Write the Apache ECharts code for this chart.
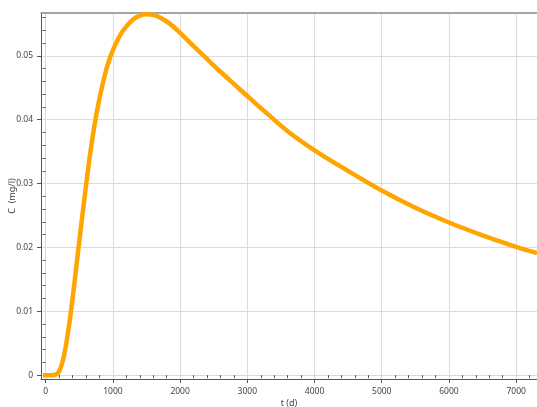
<!DOCTYPE html>
<html><head><meta charset="utf-8">
<script src="https://cdn.jsdelivr.net/npm/echarts@6/dist/echarts.min.js"></script>
<style>html,body{margin:0;padding:0;background:#fff}#c{width:537px;height:407px}</style>
</head><body><div id="c"></div>
<script>
// Time (d)
const tValues = [-40, 0, 100, 150, 200, 250, 300, 350, 400, 450, 500, 550, 600, 650, 700, 750, 800, 850, 900, 950, 1000, 1100, 1200, 1300, 1400, 1500, 1600, 1700, 1850, 2000, 2200, 2400, 2600, 2800, 3000, 3300, 3600, 4000, 4400, 5000, 5500, 6000, 6500, 7000, 7310];
// Concentration C (mg/l)
const cValues = [0, 0, 0, 0.0001, 0.0006, 0.0021, 0.0046, 0.0080, 0.0120, 0.0165, 0.0210, 0.0254, 0.0297, 0.0338, 0.0374, 0.0406, 0.0433, 0.0457, 0.0478, 0.0495, 0.0509, 0.0531, 0.0546, 0.0557, 0.0563, 0.0565, 0.0564, 0.0560, 0.0550, 0.0536, 0.0515, 0.0495, 0.0475, 0.0456, 0.0437, 0.0409, 0.0382, 0.0352, 0.0326, 0.0289, 0.0262, 0.0239, 0.0219, 0.0201, 0.0191];
const xMajorTicks = [0, 1000, 2000, 3000, 4000, 5000, 6000, 7000];
const xMinorTicks = [200, 400, 600, 800, 1200, 1400, 1600, 1800, 2200, 2400, 2600, 2800, 3200, 3400, 3600, 3800, 4200, 4400, 4600, 4800, 5200, 5400, 5600, 5800, 6200, 6400, 6600, 6800, 7200];
const yMajorTicks = [0, 0.01, 0.02, 0.03, 0.04, 0.05];
const yMinorTicks = [0.002, 0.004, 0.006, 0.008, 0.012, 0.014, 0.016, 0.018, 0.022, 0.024, 0.026, 0.028, 0.032, 0.034, 0.036, 0.038, 0.042, 0.044, 0.046, 0.048, 0.052, 0.054, 0.056];
const xRange = [-70, 7310];
const yRange = [-0.0006, 0.0567];

const font = 'Noto Sans';
const labelStyle = {fontSize: 8.5, color: '#444', fontFamily: font};
const data = tValues.map((t, i) => [t, cValues[i]]);

const chart = echarts.init(document.getElementById('c'));
chart.setOption({
  animation: false,
  grid: {left: 41, right: 0, top: 13, bottom: 28, containLabel: false, outerBoundsMode: 'none'},
  xAxis: [
    {type: 'value', min: xRange[0], max: xRange[1], position: 'bottom',
     name: 't (d)', nameLocation: 'middle', nameGap: 20, nameMoveOverlap: false,
     nameTextStyle: {fontSize: 9, color: '#444', fontFamily: font},
     axisLine: {show: true, onZero: false, lineStyle: {color: '#555', width: 1}},
     axisTick: {show: true, customValues: xMajorTicks, length: 4, lineStyle: {color: '#555'}},
     axisLabel: {show: true, customValues: xMajorTicks, margin: 8, formatter: v => String(v), ...labelStyle},
     splitLine: {show: true, lineStyle: {color: '#dcdcdc', width: 1}}},
    {type: 'value', min: xRange[0], max: xRange[1], position: 'bottom',
     axisLine: {show: false},
     axisTick: {show: true, customValues: xMinorTicks, length: 3, lineStyle: {color: '#555'}},
     axisLabel: {show: false}, splitLine: {show: false}},
    {type: 'value', min: xRange[0], max: xRange[1], position: 'top',
     axisLine: {show: true, onZero: false, lineStyle: {color: '#888', width: 1.5}},
     axisTick: {show: false}, axisLabel: {show: false}, splitLine: {show: false}}
  ],
  yAxis: [
    {type: 'value', min: yRange[0], max: yRange[1], position: 'left',
     name: 'C  (mg/l)', nameLocation: 'middle', nameGap: 24, nameRotate: 90, nameMoveOverlap: false,
     nameTextStyle: {fontSize: 9, color: '#444', fontFamily: font},
     axisLine: {show: true, onZero: false, lineStyle: {color: '#555', width: 1}},
     axisTick: {show: true, customValues: yMajorTicks, length: 4, lineStyle: {color: '#555'}},
     axisLabel: {show: true, customValues: yMajorTicks, margin: 8, formatter: v => String(v), ...labelStyle},
     splitLine: {show: true, lineStyle: {color: '#dcdcdc', width: 1}}},
    {type: 'value', min: yRange[0], max: yRange[1], position: 'left',
     axisLine: {show: false},
     axisTick: {show: true, customValues: yMinorTicks, length: 3, lineStyle: {color: '#555'}},
     axisLabel: {show: false}, splitLine: {show: false}}
  ],
  series: [{
    type: 'line', xAxisIndex: 0, yAxisIndex: 0, data: data,
    showSymbol: false, smooth: 0.3,
    lineStyle: {color: '#FFA500', width: 4.5},
    itemStyle: {color: '#FFA500'}
  }]
});
</script></body></html>
